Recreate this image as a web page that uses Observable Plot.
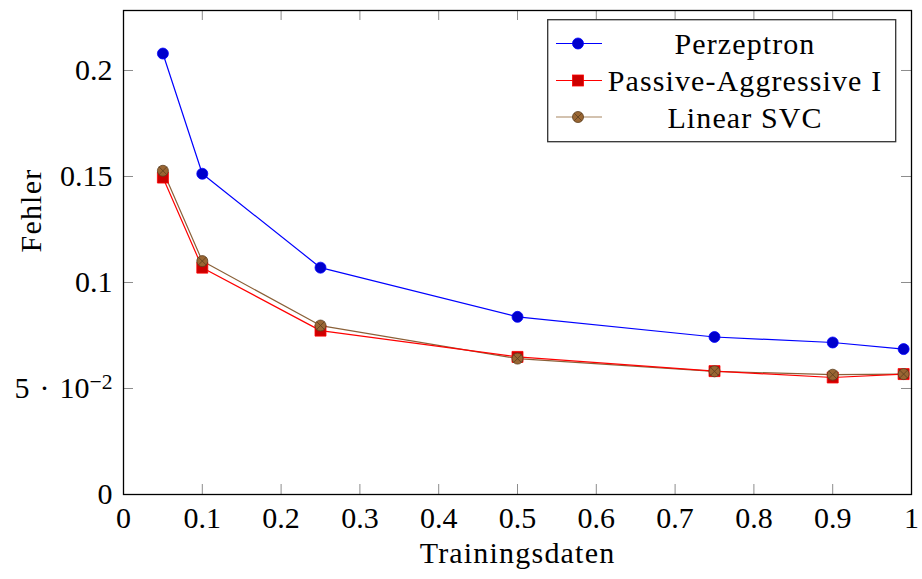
<!DOCTYPE html>
<html>
<head>
<meta charset="utf-8">
<script src="https://cdn.jsdelivr.net/npm/d3@7"></script>
<script src="https://cdn.jsdelivr.net/npm/@observablehq/plot@0.6"></script>
<style>
  html, body { margin: 0; padding: 0; background: #fff; }
  #wrap { position: relative; width: 922px; height: 579px; font-family: "Liberation Serif", serif; }
  #legend { position: absolute; left: 547px; top: 19px; }
</style>
</head>
<body>
<div id="wrap"></div>
<script>
const xValues = [0.05, 0.1, 0.25, 0.5, 0.75, 0.9, 0.99];
const perzeptron = [0.208, 0.1513, 0.107, 0.0838, 0.0743, 0.0717, 0.0686];
const passiveAggressive = [0.1495, 0.107, 0.0773, 0.0649, 0.0582, 0.0552, 0.0568];
const linearSVC = [0.1527, 0.1101, 0.0797, 0.0641, 0.0581, 0.0565, 0.0568];
const seriesNames = ["Perzeptron", "Passive-Aggressive I", "Linear SVC"];
const xTicks = [0, 0.1, 0.2, 0.3, 0.4, 0.5, 0.6, 0.7, 0.8, 0.9, 1];
const yTicks = [0, 0.05, 0.1, 0.15, 0.2];
const yTickLabels = ["0", "5\u2004·\u200410^\u22122", "0.1", "0.15", "0.2"];
const xTickLabels = ["0", "0.1", "0.2", "0.3", "0.4", "0.5", "0.6", "0.7", "0.8", "0.9", "1"];
const xTitle = "Trainingsdaten";
const yTitle = "Fehler";

const W = 922, H = 579;
const mL = 123, mR = 11, mT = 10, mB = 85;
const pw = W - mL - mR, ph = H - mT - mB;
const tickLen = 10;
const FS = 30;

const toRows = (vals, s) => xValues.map((x, i) => ({x, y: vals[i], s}));
const pz = toRows(perzeptron, seriesNames[0]);
const pa = toRows(passiveAggressive, seriesNames[1]);
const sv = toRows(linearSVC, seriesNames[2]);

const colors = {
  blueLine: "#0000ff", blueFill: "#0000cc",
  redLine: "#ff0000", redFill: "#cc0000",
  brownLine: "#8a6038", brownFill: "#996633", brownEdge: "#5c3d1e"
};

const chart = Plot.plot({
  width: W, height: H,
  marginLeft: mL, marginRight: mR, marginTop: mT, marginBottom: mB,
  style: {fontFamily: "'Liberation Serif', serif", fontSize: FS + "px", color: "black", background: "white"},
  x: {domain: [0, 1], axis: null},
  y: {domain: [0, 0.2283], axis: null},
  marks: [
    Plot.tickX(xTicks, {x: d => d, insetTop: ph - tickLen, stroke: "#8c8c8c", strokeWidth: 1}),
    Plot.tickX(xTicks, {x: d => d, insetBottom: ph - tickLen, stroke: "#8c8c8c", strokeWidth: 1}),
    Plot.tickY(yTicks, {y: d => d, insetRight: pw - tickLen, stroke: "#8c8c8c", strokeWidth: 1}),
    Plot.tickY(yTicks, {y: d => d, insetLeft: pw - tickLen, stroke: "#8c8c8c", strokeWidth: 1}),
    Plot.axisX({ticks: xTicks, tickSize: 0, tickPadding: 12, tickFormat: d => xTickLabels[xTicks.indexOf(d)], fontSize: FS, fill: "black", label: null}),
    Plot.axisY({ticks: yTicks, tickSize: 0, tickPadding: 11, tickFormat: d => yTickLabels[yTicks.indexOf(d)], fontSize: FS, fill: "black", label: null}),
    Plot.text([xTitle], {frameAnchor: "bottom", dy: 68, fontSize: FS, fill: "black", className: "spaced"}),
    Plot.text([yTitle], {frameAnchor: "left", dx: -92, rotate: -90, fontSize: FS, fill: "black", className: "spaced"}),
    Plot.line(pz, {x: "x", y: "y", stroke: colors.blueLine, strokeWidth: 1.2}),
    Plot.line(sv, {x: "x", y: "y", stroke: colors.brownLine, strokeWidth: 1.2}),
    Plot.line(pa, {x: "x", y: "y", stroke: colors.redLine, strokeWidth: 1.2}),
    Plot.dot(pz, {x: "x", y: "y", r: 5.5, fill: colors.blueFill, stroke: colors.blueLine, strokeWidth: 0.8}),
    Plot.dot(pa, {x: "x", y: "y", r: 6.2, symbol: "square", fill: colors.redFill, stroke: colors.redLine, strokeWidth: 0.8}),
    Plot.dot(sv, {x: "x", y: "y", r: 5.5, fill: colors.brownFill, stroke: colors.brownEdge, strokeWidth: 0.8}),
    Plot.dot(sv, {x: "x", y: "y", r: 3.8, symbol: "times", stroke: colors.brownEdge, strokeWidth: 0.8}),
    Plot.frame({stroke: "black", strokeWidth: 1.3})
  ]
});
document.getElementById("wrap").appendChild(chart);
d3.select(chart).selectAll(".spaced text").attr("letter-spacing", "1.2px");

// render "a^b" tick labels with a real superscript
d3.select(chart).selectAll("text").each(function() {
  const t = this.textContent;
  if (t.includes("^")) {
    const [base, sup] = t.split("^");
    const el = d3.select(this);
    el.text(null);
    el.append("tspan").text(base);
    el.append("tspan").attr("dy", "-0.42em").attr("font-size", "0.72em").text(sup);
  }
});

// legend
const lw = 348, lh = 122;
const leg = d3.select("#wrap").append("svg").attr("id", "legend")
  .attr("width", lw + 2).attr("height", lh + 2);
leg.append("rect").attr("x", 0.7).attr("y", 0.7).attr("width", lw).attr("height", lh)
  .attr("fill", "white").attr("stroke", "#333").attr("stroke-width", 1.3);
const rowsY = [24.5, 61.5, 98];
const legendDefs = [
  {line: colors.blueLine, fill: colors.blueFill, edge: colors.blueLine, sym: "circle"},
  {line: colors.redLine, fill: colors.redFill, edge: colors.redLine, sym: "square"},
  {line: "#a88560", fill: colors.brownFill, edge: colors.brownEdge, sym: "otimes"}
];
seriesNames.forEach((name, i) => {
  const y = rowsY[i], d = legendDefs[i];
  leg.append("line").attr("x1", 9).attr("x2", 55).attr("y1", y).attr("y2", y)
    .attr("stroke", d.line).attr("stroke-width", 1.2);
  if (d.sym === "square") {
    leg.append("rect").attr("x", 31 - 5.5).attr("y", y - 5.5).attr("width", 11).attr("height", 11)
      .attr("fill", d.fill).attr("stroke", d.edge).attr("stroke-width", 0.8);
  } else {
    leg.append("circle").attr("cx", 31).attr("cy", y).attr("r", 5.5)
      .attr("fill", d.fill).attr("stroke", d.edge).attr("stroke-width", 0.8);
    if (d.sym === "otimes") {
      const k = 3.8;
      leg.append("path").attr("d", `M${31-k},${y-k}L${31+k},${y+k}M${31-k},${y+k}L${31+k},${y-k}`)
        .attr("stroke", d.edge).attr("stroke-width", 0.8);
    }
  }
  leg.append("text").attr("x", 198).attr("y", y).attr("dy", "0.35em")
    .attr("text-anchor", "middle").attr("font-size", FS).attr("letter-spacing", "1.1px")
    .attr("font-family", "'Liberation Serif', serif").attr("fill", "black")
    .text(name);
});
</script>
</body>
</html>
